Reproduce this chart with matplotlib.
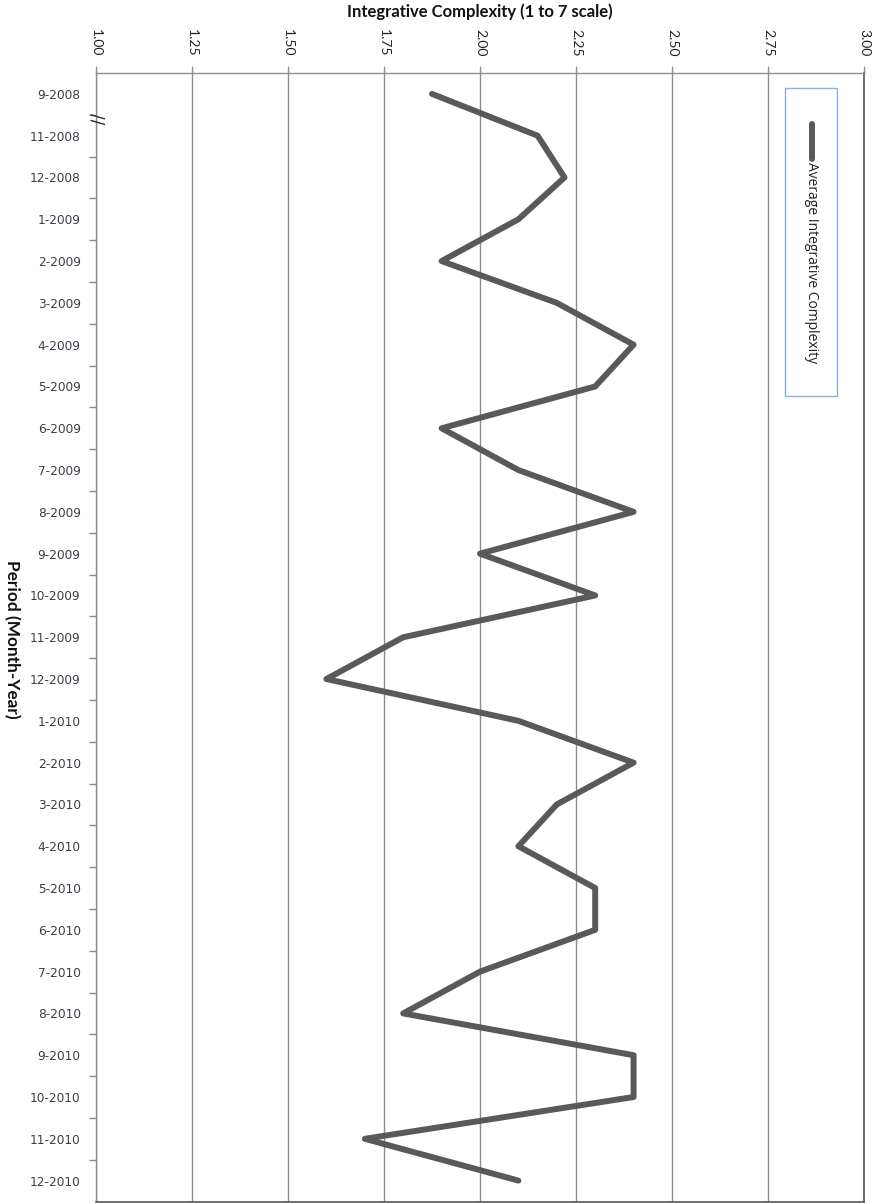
import matplotlib.pyplot as plt
from matplotlib.patches import Rectangle
from matplotlib.lines import Line2D

periods = ['9-2008', '11-2008', '12-2008', '1-2009', '2-2009', '3-2009', '4-2009',
           '5-2009', '6-2009', '7-2009', '8-2009', '9-2009', '10-2009', '11-2009',
           '12-2009', '1-2010', '2-2010', '3-2010', '4-2010', '5-2010', '6-2010',
           '7-2010', '8-2010', '9-2010', '10-2010', '11-2010', '12-2010']
complexity = [1.875, 2.15, 2.22, 2.10, 1.90, 2.20, 2.40,
              2.30, 1.90, 2.10, 2.40, 2.00, 2.30, 1.80,
              1.60, 2.10, 2.40, 2.20, 2.10, 2.30, 2.30,
              2.00, 1.80, 2.40, 2.40, 1.70, 2.10]
xticks = [1.00, 1.25, 1.50, 1.75, 2.00, 2.25, 2.50, 2.75, 3.00]

W, H = 882, 1203
fig = plt.figure(figsize=(W / 100, H / 100), dpi=100)

def fx(px):
    return px / W

def fy(py):
    return 1 - py / H

# axes box in pixel terms: left 96, right 864, top 73, bottom ~1201
ax = fig.add_axes([fx(96), fy(1201.5), fx(864 - 96), (1201.5 - 73) / H])

line_col = '#595959'
grid_col = '#8c8c8c'

y = list(range(len(periods)))
ax.plot(complexity, y, color=line_col, lw=4.3, solid_capstyle='round',
        solid_joinstyle='round', zorder=3)

ax.set_xlim(1.0, 3.0)
ax.set_ylim(len(periods) - 0.5, -0.5)

# value axis on top, labels turned sideways
ax.xaxis.tick_top()
ax.set_xticks(xticks)
ax.set_xticklabels([f'{v:.2f}' for v in xticks], rotation=-90,
                   fontsize=10, family='Lato', color='#222222')
ax.tick_params(axis='x', which='major', direction='out', length=5,
               width=1, color=grid_col, pad=7)
ax.grid(axis='x', color=grid_col, lw=1, zorder=1)

# category axis: labels centred, ticks between categories
ax.set_yticks(y)
ax.set_yticklabels(periods, fontsize=8.7, color='#3c3c48')
ax.tick_params(axis='y', which='major', length=0, pad=11)
ax.set_yticks([i + 0.5 for i in range(len(periods) - 1)], minor=True)
ax.tick_params(axis='y', which='minor', direction='out', length=5,
               width=1, color=grid_col)

for side in ['left', 'top']:
    ax.spines[side].set_color(grid_col)
    ax.spines[side].set_linewidth(1)
for side in ['right', 'bottom']:
    ax.spines[side].set_color('#555555')
    ax.spines[side].set_linewidth(1.2)

fig.text(fx(480), fy(12), 'Integrative Complexity (1 to 7 scale)',
         ha='center', va='center', fontsize=12, fontweight='bold',
         family='Lato', color='#111111')
fig.text(fx(12), fy(639), 'Period (Month-Year)', rotation=-90,
         ha='center', va='center', fontsize=12.4, fontweight='bold',
         family='Lato', color='#111111')

# axis break mark
fig.text(fx(96), fy(119), '//', rotation=-90, ha='center', va='center',
         fontsize=12, color='#222222')

# legend box drawn by hand so it can stand on its side
fig.patches.append(Rectangle((fx(785), fy(396)), fx(52), 308 / H,
                             transform=fig.transFigure, fill=True,
                             facecolor='white', edgecolor='#8fb0dc', lw=1,
                             zorder=5))
fig.lines.append(Line2D([fx(812), fx(812)], [fy(124), fy(159)],
                        transform=fig.transFigure, color=line_col, lw=4.3,
                        solid_capstyle='round', zorder=6))
fig.text(fx(812), fy(162), 'Average Integrative Complexity', rotation=-90,
         ha='center', va='top', fontsize=10, family='Open Sans',
         color='#222222', zorder=7)

fig.savefig('out.png', dpi=100)
